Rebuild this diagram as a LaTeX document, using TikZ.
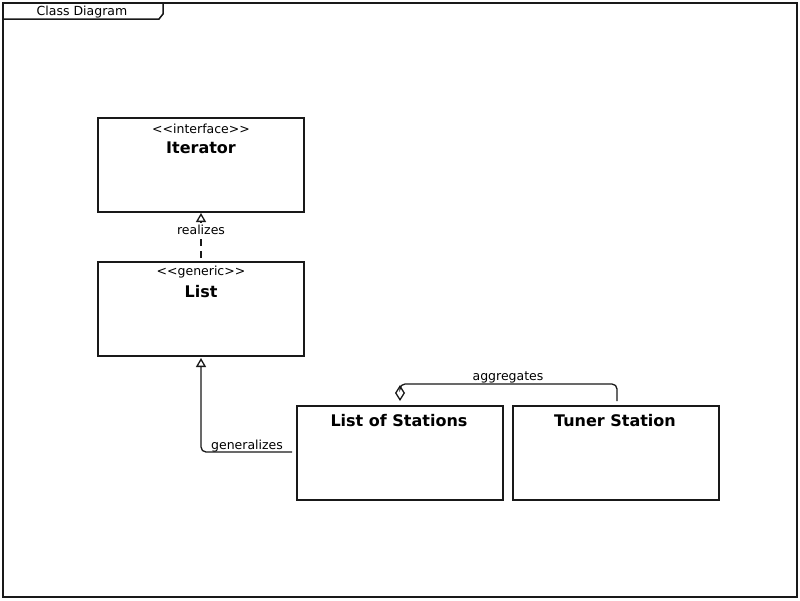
\documentclass[tikz,border=0pt]{standalone}
\usepackage{fontspec}
\setmainfont{DejaVu Sans}
\usetikzlibrary{arrows.meta}
\begin{document}
\begin{tikzpicture}[x=1pt,y=-1pt,
  ln/.style={line width=1.6pt,draw=black!90},
  cls/.style={ln,draw,fill=white,minimum width=206pt,minimum height=94pt,anchor=north west,inner sep=0pt},
  small/.style={font=\fontsize{12.5}{14}\selectfont},
  title/.style={font=\fontsize{16}{18}\selectfont\bfseries},
  lbl/.style={small,inner sep=1pt},
  conn/.style={line width=1.3pt,draw=black!90},
  gen/.style={conn,-{Triangle[open,width=10pt,length=9pt]}},
  agg/.style={conn,-{Diamond[open,width=10pt,length=16pt]}}]
\useasboundingbox (0,0) rectangle (800,600);
\fill[white] (0,0) rectangle (800,600);
% frame
\draw[line width=1.5pt,draw=black!90] (3,3) rectangle (797,597);
\draw[line width=1.5pt,draw=black!90] (3,19) -- (159,19) -- (163,14) -- (163,3);
\node[small,inner sep=0pt] (frame) at (82,12) {Class Diagram};
% classes
\node[cls] (it) at (97,117) {};
\node[small] at (201,129) {<{}<interface>{}>};
\node[title] at (201,148) {Iterator};
\node[cls] (li) at (97,261) {};
\node[small] at (201,272) {<{}<generic>{}>};
\node[title] at (201,292) {List};
\node[cls] (ls) at (296,405) {};
\node[title] at (399,421) {List of Stations};
\node[cls] (ts) at (512,405) {};
\node[title] at (615,421) {Tuner Station};
% connectors
\coordinate (r1) at (201,258);
\coordinate (r2) at (201,213);
\draw[gen,dashed,dash pattern=on 7pt off 5pt] (r1) -- (r2);
\node[lbl,fill=white] at (201,230) {realizes};
\coordinate (g1) at (292,452);
\coordinate (g2) at (201,358);
\draw[gen,rounded corners=5pt] (g1) -- (g2 |- g1) -- (g2);
\node[lbl] at (247,446) {generalizes};
\coordinate (a1) at (617,401);
\coordinate (a2) at (400,401);
\draw[agg,rounded corners=5pt] (a1) -- (617,384) -- (400,384) -- (a2);
\node[lbl] at (508,377) {aggregates};
\end{tikzpicture}
\end{document}
